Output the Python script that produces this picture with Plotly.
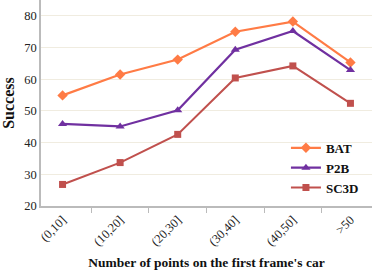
import plotly.graph_objects as go

categories = ["(0,10]", "(10,20]", "(20,30]", "(30,40]", "(40,50]", ">50"]
bat = [54.9, 61.5, 66.2, 75.0, 78.2, 65.3]
p2b = [45.9, 45.1, 50.2, 69.3, 75.2, 62.9]
sc3d = [26.8, 33.7, 42.6, 60.4, 64.2, 52.4]

font = "Liberation Serif"
fig = go.Figure()
fig.add_trace(go.Scatter(x=categories, y=bat, name="<b>BAT</b>", mode="lines+markers",
                         line=dict(color="#FF7B45", width=2.2),
                         marker=dict(symbol="diamond", size=8, color="#FF7B45")))
fig.add_trace(go.Scatter(x=categories, y=p2b, name="<b>P2B</b>", mode="lines+markers",
                         line=dict(color="#7030A0", width=2.2),
                         marker=dict(symbol="triangle-up", size=8, color="#7030A0")))
fig.add_trace(go.Scatter(x=categories, y=sc3d, name="<b>SC3D</b>", mode="lines+markers",
                         line=dict(color="#C0504D", width=2),
                         marker=dict(symbol="square", size=7, color="#C0504D")))

fig.update_layout(
    width=374, height=274,
    margin=dict(l=41, r=2, t=0, b=68),
    plot_bgcolor="white", paper_bgcolor="white",
    font=dict(family=font, size=12, color="#222"),
    legend=dict(x=0.74, y=0.355, xanchor="left", yanchor="top",
                bgcolor="rgba(0,0,0,0)", font=dict(family=font, size=13, color="#111"),
                tracegroupgap=0, itemwidth=30),
    showlegend=True,
)
fig.update_xaxes(showline=True, linecolor="#bbbbbb", linewidth=1.5,
                 ticks="outside", tickcolor="#bbbbbb", ticklen=5,
                 tickson="boundaries", tickangle=-45, showgrid=False, automargin=False,
                 tickfont=dict(family=font, size=12.5, color="#222"),
                 title=dict(text="<b>Number of points on the first frame's car</b>",
                            font=dict(family=font, size=13.5, color="#111"), standoff=10))
fig.update_yaxes(range=[20, 85], dtick=10, showline=True, linecolor="#bbbbbb", linewidth=1.5,
                 showgrid=True, gridcolor="#f0ece0", zeroline=False, automargin=False,
                 tickfont=dict(family=font, size=12.5, color="#222"),
                 title=dict(text="<b>Success</b>", font=dict(family=font, size=16, color="#111"),
                            standoff=6))
fig.write_html("out.html", config={"displayModeBar": False},
               post_script="document.body.style.margin='0';document.body.style.overflow='hidden';")
